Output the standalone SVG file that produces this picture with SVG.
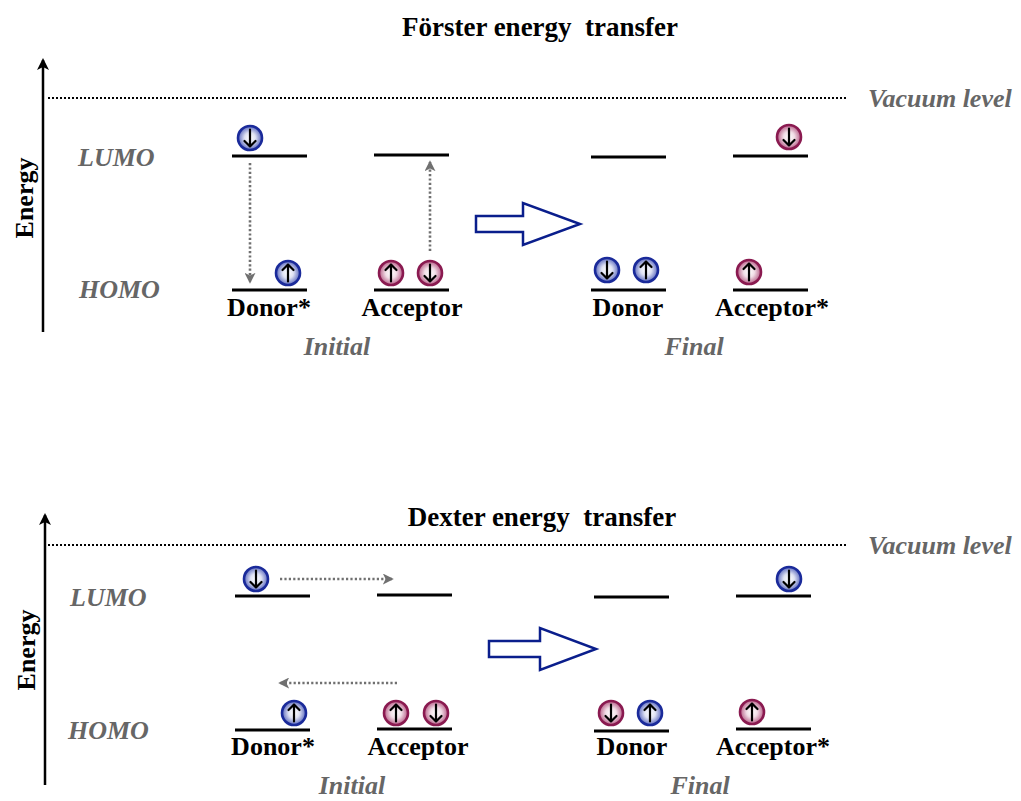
<svg xmlns="http://www.w3.org/2000/svg" width="1021" height="801" viewBox="0 0 1021 801">
  <style>
    .title { font-family: "Liberation Serif", "Times New Roman", serif; font-weight: bold; font-size: 27px; fill: #000; text-anchor: middle; white-space: pre; }
    .label { font-family: "Liberation Serif", "Times New Roman", serif; font-weight: bold; font-size: 26px; fill: #000; text-anchor: middle; }
    .note { font-family: "Liberation Serif", "Times New Roman", serif; font-weight: bold; font-style: italic; font-size: 26px; fill: #666; }
    .mid { text-anchor: middle; }
    .level { stroke: #000; stroke-width: 3; fill: none; }
    .axis { stroke: #000; stroke-width: 2.5; fill: none; }
    .vacuum { stroke: #000; stroke-width: 2; stroke-dasharray: 2 2; fill: none; }
    .hop { stroke: #707070; stroke-width: 2.6; stroke-dasharray: 2.2 2.2; fill: none; }
    .big { fill: #fff; stroke: #0a1e8c; stroke-width: 2.5; stroke-linejoin: miter; }
    .spin { stroke: #000; stroke-width: 2.2; fill: none; stroke-linecap: round; stroke-linejoin: round; }
  </style>
  <defs>
    <radialGradient id="gBlue" cx="50%" cy="50%" r="50%">
      <stop offset="0" stop-color="#ffffff"/>
      <stop offset="0.45" stop-color="#dfe2f3"/>
      <stop offset="1" stop-color="#5a68bd"/>
    </radialGradient>
    <radialGradient id="gPink" cx="50%" cy="50%" r="50%">
      <stop offset="0" stop-color="#ffffff"/>
      <stop offset="0.45" stop-color="#f1dde6"/>
      <stop offset="1" stop-color="#b65d86"/>
    </radialGradient>
    <marker id="axisHead" viewBox="0 0 12 12" refX="10" refY="6" markerWidth="12" markerHeight="12" markerUnits="userSpaceOnUse" orient="auto">
      <path d="M0,0 L12,6 L0,12 L3,6 Z" fill="#000"/>
    </marker>
    <marker id="hopHead" viewBox="0 0 12 12" refX="10" refY="6" markerWidth="11" markerHeight="11" markerUnits="userSpaceOnUse" orient="auto">
      <path d="M0,0 L12,6 L0,12 L3,6 Z" fill="#707070"/>
    </marker>
    <!-- electrons: circle with a spin arrow, drawn at the origin -->
    <g id="eBlueUp">
      <circle r="12" fill="url(#gBlue)" stroke="#1a2a9a" stroke-width="2.6"/>
      <path class="spin" d="M0,8.5 V-8.5 M-5.5,-3 L0,-8.5 L5.5,-3"/>
    </g>
    <g id="eBlueDown">
      <circle r="12" fill="url(#gBlue)" stroke="#1a2a9a" stroke-width="2.6"/>
      <path class="spin" d="M0,-8.5 V8.5 M-5.5,3 L0,8.5 L5.5,3"/>
    </g>
    <g id="ePinkUp">
      <circle r="12" fill="url(#gPink)" stroke="#8a1a50" stroke-width="2.6"/>
      <path class="spin" d="M0,8.5 V-8.5 M-5.5,-3 L0,-8.5 L5.5,-3"/>
    </g>
    <g id="ePinkDown">
      <circle r="12" fill="url(#gPink)" stroke="#8a1a50" stroke-width="2.6"/>
      <path class="spin" d="M0,-8.5 V8.5 M-5.5,3 L0,8.5 L5.5,3"/>
    </g>
  </defs>

  <rect width="1021" height="801" fill="#fff"/>

  <!-- ===== Förster panel ===== -->
  <g id="forster-frame">
    <text class="title" x="540" y="36">Förster energy  transfer</text>
    <line class="axis" x1="43" y1="332" x2="43" y2="60" marker-end="url(#axisHead)"/>
    <text class="label" transform="translate(33,198) rotate(-90)">Energy</text>
    <line class="vacuum" x1="48" y1="98" x2="848" y2="98"/>
    <text class="note" x="868" y="107">Vacuum level</text>
    <text class="note" x="78" y="166">LUMO</text>
    <text class="note" x="79" y="298">HOMO</text>
    <text class="note mid" x="337" y="355">Initial</text>
    <text class="note mid" x="694" y="355">Final</text>
  </g>

  <g id="forster-donor-initial">
    <line class="level" x1="232" y1="156" x2="307" y2="156"/>
    <line class="level" x1="232" y1="290" x2="307" y2="290"/>
    <use href="#eBlueDown" x="250" y="138"/>
    <use href="#eBlueUp" x="288" y="273"/>
    <text class="label" x="269" y="316">Donor*</text>
  </g>

  <g id="forster-acceptor-initial">
    <line class="level" x1="374" y1="155" x2="449" y2="155"/>
    <line class="level" x1="374" y1="290" x2="449" y2="290"/>
    <use href="#ePinkUp" x="391" y="273"/>
    <use href="#ePinkDown" x="430" y="273"/>
    <text class="label" x="412" y="316">Acceptor</text>
  </g>

  <g id="forster-donor-final">
    <line class="level" x1="591" y1="157" x2="666" y2="157"/>
    <line class="level" x1="591" y1="290" x2="666" y2="290"/>
    <use href="#eBlueDown" x="607" y="270"/>
    <use href="#eBlueUp" x="646" y="270"/>
    <text class="label" x="628" y="316">Donor</text>
  </g>

  <g id="forster-acceptor-final">
    <line class="level" x1="733" y1="156" x2="808" y2="156"/>
    <line class="level" x1="733" y1="290" x2="808" y2="290"/>
    <use href="#ePinkDown" x="789" y="137"/>
    <use href="#ePinkUp" x="749" y="272"/>
    <text class="label" x="772" y="316">Acceptor*</text>
  </g>

  <g id="forster-connectors">
    <line class="hop" x1="250" y1="163" x2="250" y2="282" marker-end="url(#hopHead)"/>
    <line class="hop" x1="430" y1="251" x2="430" y2="162" marker-end="url(#hopHead)"/>
    <path class="big" d="M476,216 H523 V203 L580,224 L523,245 V232 H476 Z"/>
  </g>

  <!-- ===== Dexter panel ===== -->
  <g id="dexter-frame">
    <text class="title" x="542" y="526">Dexter energy  transfer</text>
    <line class="axis" x1="45" y1="785" x2="45" y2="515" marker-end="url(#axisHead)"/>
    <text class="label" transform="translate(35,650) rotate(-90)">Energy</text>
    <line class="vacuum" x1="48" y1="545" x2="848" y2="545"/>
    <text class="note" x="868" y="554">Vacuum level</text>
    <text class="note" x="70" y="606">LUMO</text>
    <text class="note" x="68" y="739">HOMO</text>
    <text class="note mid" x="352" y="794">Initial</text>
    <text class="note mid" x="700" y="794">Final</text>
  </g>

  <g id="dexter-donor-initial">
    <line class="level" x1="235" y1="596" x2="310" y2="596"/>
    <line class="level" x1="235" y1="730" x2="310" y2="730"/>
    <use href="#eBlueDown" x="256" y="579"/>
    <use href="#eBlueUp" x="294" y="713"/>
    <text class="label" x="273" y="755">Donor*</text>
  </g>

  <g id="dexter-acceptor-initial">
    <line class="level" x1="377" y1="595" x2="452" y2="595"/>
    <line class="level" x1="377" y1="729" x2="452" y2="729"/>
    <use href="#ePinkUp" x="396" y="713"/>
    <use href="#ePinkDown" x="436" y="713"/>
    <text class="label" x="418" y="755">Acceptor</text>
  </g>

  <g id="dexter-donor-final">
    <line class="level" x1="594" y1="597" x2="669" y2="597"/>
    <line class="level" x1="594" y1="731" x2="669" y2="731"/>
    <use href="#ePinkDown" x="611" y="713"/>
    <use href="#eBlueUp" x="650" y="713"/>
    <text class="label" x="632" y="755">Donor</text>
  </g>

  <g id="dexter-acceptor-final">
    <line class="level" x1="736" y1="596" x2="811" y2="596"/>
    <line class="level" x1="736" y1="729" x2="811" y2="729"/>
    <use href="#eBlueDown" x="789" y="579"/>
    <use href="#ePinkUp" x="752" y="712"/>
    <text class="label" x="773" y="755">Acceptor*</text>
  </g>

  <g id="dexter-connectors">
    <line class="hop" x1="280" y1="579" x2="392" y2="579" marker-end="url(#hopHead)"/>
    <line class="hop" x1="397" y1="683" x2="280" y2="683" marker-end="url(#hopHead)"/>
    <path class="big" d="M489,641 H540 V628 L596,649 L540,670 V657 H489 Z"/>
  </g>
</svg>
